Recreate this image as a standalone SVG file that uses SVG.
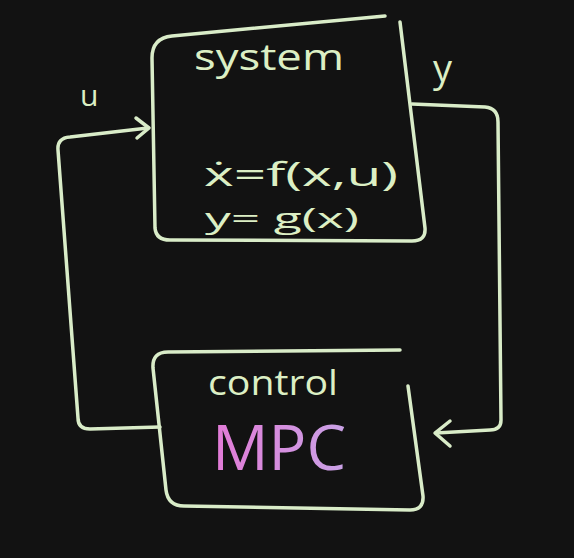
<svg xmlns="http://www.w3.org/2000/svg" width="574" height="558" viewBox="0 0 574 558">
<defs>
<style>
.chalk{fill:none;stroke:#d9ecc8;stroke-width:3.5;stroke-linecap:round;stroke-linejoin:round}
.t{fill:#dcefc4;font-family:"Open Sans","DejaVu Sans",sans-serif}
</style>
<linearGradient id="mpc" x1="0" y1="0" x2="1" y2="0">
<stop offset="0" stop-color="#e27ad6"/>
<stop offset="1" stop-color="#c9a2e6"/>
</linearGradient>
</defs>
<rect width="574" height="558" fill="#121212"/>
<g id="connectors">
<path class="chalk" d="M160,427 L90,429 Q78,429 78,418 L58,150 Q57,138 70,137 L148,128"/>
<path class="chalk" d="M136,118 L149,128 L137,138"/>
<path class="chalk" d="M412,104 L485,107 Q498,108 498,122 L501,420 Q501,430 490,430 L436,433"/>
<path class="chalk" d="M450,421 L435,433 L450,446"/>
<text class="t" x="80" y="106" font-size="30">u</text>
<text class="t" x="433" y="82" font-size="38">y</text>
</g>
<g id="system">
<path class="chalk" d="M385,16 L172,36 Q152,38 152,58 L155,228 Q156,240 170,240 L412,241 Q426,241 425,228 L400,22"/>
<text class="t" x="194" y="70" font-size="36" textLength="150" lengthAdjust="spacingAndGlyphs">system</text>
<text class="t" x="204" y="186" font-size="33" textLength="194" lengthAdjust="spacingAndGlyphs">ẋ=f(x,u)</text>
<text class="t" x="205" y="228" font-size="28" textLength="154" lengthAdjust="spacingAndGlyphs">y= g(x)</text>
</g>
<g id="control">
<path class="chalk" d="M400,350 L168,352 Q152,352 153,368 L166,490 Q168,506 184,506 L410,510 Q424,510 423,496 L408,386"/>
<text class="t" x="208" y="395" font-size="34" textLength="130" lengthAdjust="spacingAndGlyphs">control</text>
<text x="212" y="470" font-size="62" fill="url(#mpc)" font-family="Open Sans, DejaVu Sans, sans-serif" textLength="134" lengthAdjust="spacingAndGlyphs">MPC</text>
</g>
</svg>
